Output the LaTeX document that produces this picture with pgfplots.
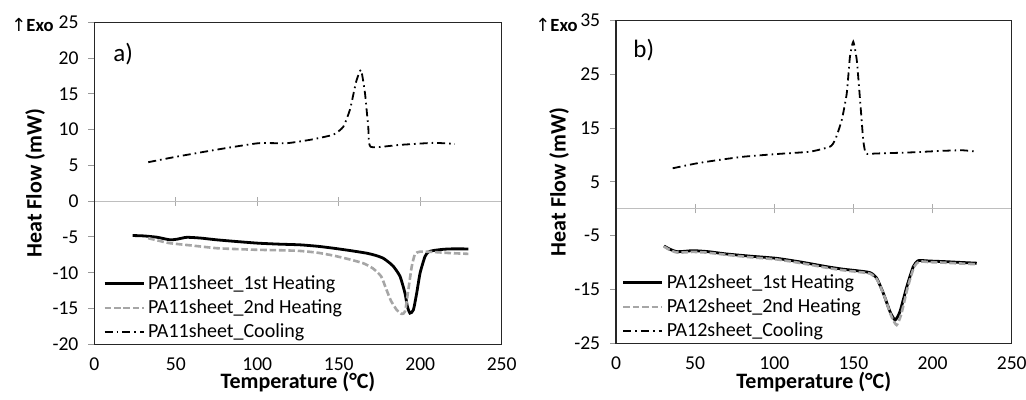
\documentclass[border=0pt]{standalone}
\usepackage{fontspec}
\setmainfont{Carlito}
\newfontfamily\djv{DejaVu Sans}
\usepackage{pgfplots}
\pgfplotsset{compat=1.18}
\definecolor{lgray}{RGB}{166,166,166}
\definecolor{zgray}{RGB}{190,190,190}
\pgfplotsset{
  base/.style={scale only axis, xmin=0, xmax=250,
    /pgf/number format/assume math mode=true},
  main/.style={base,
    xtick={0,50,...,250}, x tick style={draw=none}, xtick pos=bottom, ytick pos=left,
    y tick style={zgray!80!black, line width=0.5pt}, tick align=outside, major tick length=3pt,
    axis line style={black!85, line width=0.6pt},
    tick label style={font=\fontsize{9.8}{11}\selectfont},
    yticklabel style={xshift=-1.4pt},
    label style={font=\fontsize{11}{12}\selectfont\bfseries},
    xlabel={Temperature (°C)}, ylabel={Heat Flow (mW)},
    legend cell align=left,
    legend style={draw=none, fill=none, font=\fontsize{10}{11}\selectfont, row sep=-0.3pt, inner sep=0pt,
      nodes={inner xsep=1.5pt}},
    legend image code/.code={\draw[##1] (0pt,0pt) -- (19.5pt,0pt);},
  },
  zero/.style={base, axis x line=middle, axis y line=none, axis line style={-, zgray, line width=0.6pt},
    xtick={50,100,150,200}, xticklabels={}, ytick=\empty, tick align=center, major tick length=4.5pt,
    x tick style={zgray!90!black, line width=0.6pt}},
  h1/.style={black, line width=1.4pt, smooth, tension=0.35},
  h2/.style={lgray, line width=1.3pt, dash pattern=on 3.3pt off 1.4pt, smooth, tension=0.35},
  cl/.style={black, line width=0.9pt, dash pattern=on 4pt off 2pt on 0.8pt off 2pt, smooth, tension=0.3},
}
\begin{document}
\begin{tikzpicture}
\useasboundingbox (0,0) rectangle (513pt,200pt);
% ---------------- left panel ----------------
\begin{axis}[zero, at={(47.15pt,27.85pt)}, anchor=south west, width=203.7pt, height=161pt, ymin=-20, ymax=25]
\end{axis}
\begin{axis}[main, at={(47.15pt,27.85pt)}, anchor=south west, width=203.7pt, height=161pt,
  ymin=-20, ymax=25, ytick={-20,-15,...,25},
  xlabel style={at={(axis description cs:0.5,-0.117)}, anchor=center},
  ylabel style={at={(axis description cs:-0.145,0.5)}, anchor=center},
  legend style={at={(axis description cs:0.021,0.228)}, anchor=north west}]
\addplot[h1] coordinates {(23.5,-4.8) (30,-4.85) (38.3,-5.03) (46.4,-5.4) (51,-5.3) (56.7,-5.05) (65,-5.15) (75.1,-5.4) (88,-5.65) (100.6,-5.87) (113,-6.0) (126.2,-6.1) (137,-6.3) (146.7,-6.57) (157,-6.9) (167.2,-7.27) (173,-7.6) (177.3,-7.97) (180.5,-8.5) (183.5,-9.1) (187.6,-10.5) (190.7,-12.9) (192.1,-14.7) (193.7,-15.65) (195.8,-15.2) (197.8,-12.9) (199.9,-10.06) (202.9,-7.74) (205,-7.1) (208,-6.9) (213,-6.75) (218.3,-6.67) (229.5,-6.67)};
\addlegendentry{PA11sheet\_1st Heating}
\addplot[h2] coordinates {(33.1,-5.17) (40,-5.55) (46.4,-5.87) (60,-6.2) (75.1,-6.57) (88,-6.7) (100.6,-6.8) (113,-6.85) (126,-6.95) (137,-7.2) (146.7,-7.6) (156,-8.1) (165,-8.67) (171,-9.4) (176,-10.5) (179,-12.2) (182,-13.9) (185.6,-15.2) (188.6,-15.75) (190.7,-15.4) (192.7,-12.4) (194.8,-9.13) (196.8,-7.4) (199.9,-7.05) (208,-7.1) (218,-7.25) (229.5,-7.36)};
\addlegendentry{PA11sheet\_2nd Heating}
\addplot[cl] coordinates {(33.1,5.45) (50,6.2) (75,7.2) (100.6,8.1) (118,8.1) (133,8.6) (146.7,9.3) (152.8,10.4) (156.9,12.8) (159.5,15.5) (161,16.95) (163.7,18.35) (166.1,15.1) (168.1,10.4) (169.6,7.6) (187.6,7.87) (208,8.15) (221.3,8.0)};
\addlegendentry{PA11sheet\_Cooling}
\end{axis}
% ---------------- right panel ----------------
\begin{axis}[zero, at={(308pt,28.35pt)}, anchor=south west, width=197.85pt, height=161.3pt, ymin=-25, ymax=35]
\end{axis}
\begin{axis}[main, at={(308pt,28.35pt)}, anchor=south west, width=197.85pt, height=161.3pt,
  ymin=-25, ymax=35, ytick={-25,-15,...,35},
  xlabel style={at={(axis description cs:0.5,-0.12)}, anchor=center},
  ylabel style={at={(axis description cs:-0.144,0.5)}, anchor=center},
  legend style={at={(axis description cs:0.014,0.228)}, anchor=north west}]
\addplot[h1] coordinates {(30.3,-6.9) (34,-7.5) (38.3,-7.95) (43,-7.9) (48.8,-7.77) (58,-7.95) (69.9,-8.39) (85,-8.8) (101.5,-9.2) (117,-9.9) (133.1,-10.75) (143,-11.2) (152.1,-11.5) (160.5,-11.86) (164.7,-12.9) (168.9,-15.7) (173.1,-19.1) (176.3,-20.66) (179.4,-19.1) (183.7,-14.5) (187.8,-10.75) (191,-9.63) (198,-9.7) (207,-9.8) (217,-9.95) (227.9,-10.1)};
\addlegendentry{PA12sheet\_1st Heating}
\addplot[h2] coordinates {(30.3,-7.0) (34,-7.65) (38.3,-8.1) (43,-8.1) (48.8,-8.0) (58,-8.15) (69.9,-8.55) (85,-9.0) (101.5,-9.4) (117,-10.1) (133.1,-10.95) (143,-11.4) (152.1,-11.7) (160.5,-12.05) (165,-13.2) (169.5,-16.2) (174,-20.0) (177.3,-21.6) (180.2,-19.6) (184.3,-14.6) (188.3,-10.8) (191.5,-9.8) (198,-9.9) (207,-10.0) (217,-10.15) (227.9,-10.3)};
\addlegendentry{PA12sheet\_2nd Heating}
\addplot[cl] coordinates {(35.8,7.55) (51,8.47) (65,9.1) (80.4,9.7) (101.5,10.2) (122.6,10.64) (135.2,11.57) (138.4,12.8) (142.6,16.5) (145.8,21.5) (147.8,28.3) (149.9,31.1) (152.1,27.7) (154.2,20.25) (156.2,12.8) (157.9,10.3) (164,10.3) (185.8,10.5) (206.8,10.8) (219,10.9) (227.9,10.64)};
\addlegendentry{PA12sheet\_Cooling}
\end{axis}
% ---------------- annotations ----------------
\node[anchor=west, inner sep=0pt] at (5.5pt,187.5pt) {{\djv\fontsize{9}{10}\selectfont ↑}\fontsize{9.3}{11}\selectfont\bfseries Exo};
\node[anchor=west, inner sep=0pt] at (267.5pt,187.5pt) {{\djv\fontsize{9}{10}\selectfont ↑}\fontsize{9.3}{11}\selectfont\bfseries Exo};
\node[anchor=west, inner sep=0pt] at (56.5pt,173pt) {\fontsize{12.5}{14}\selectfont a)};
\node[anchor=west, inner sep=0pt] at (316.5pt,175pt) {\fontsize{12.5}{14}\selectfont b)};
\end{tikzpicture}
\end{document}
